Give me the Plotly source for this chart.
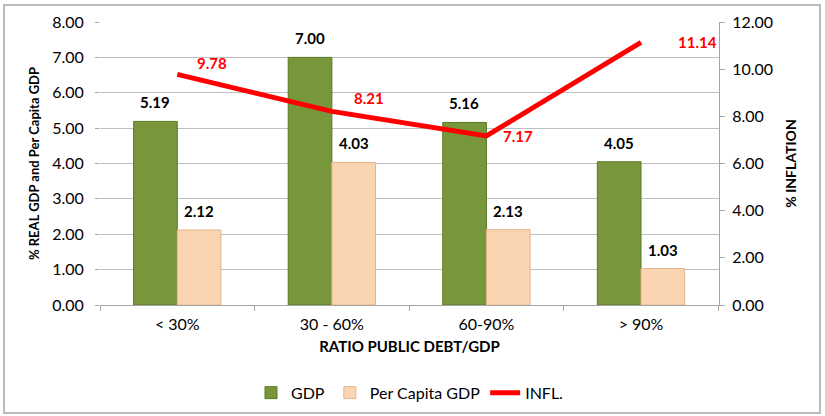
import plotly.graph_objects as go

categories = ["< 30%", "30 - 60%", "60-90%", "> 90%"]
gdp = [5.19, 7.00, 5.16, 4.05]
per_capita = [2.12, 4.03, 2.13, 1.03]
inflation = [9.78, 8.21, 7.17, 11.14]
left_ticks = [0, 1, 2, 3, 4, 5, 6, 7, 8]
right_ticks = [0, 2, 4, 6, 8, 10, 12]

FONT = "Lato"
W, H = 825, 416
ML, MR, MT, MB = 100, 106, 22, 111
pw, ph = W - ML - MR, H - MT - MB

fig = go.Figure()
fig.add_trace(go.Bar(
    x=categories, y=gdp, name="GDP", offsetgroup="a",
    marker=dict(color="#77973A", line=dict(color="#5A7A25", width=1)),
))
fig.add_trace(go.Bar(
    x=categories, y=per_capita, name="Per Capita GDP", offsetgroup="b",
    marker=dict(color="#FBD5B2", line=dict(color="#E2B58C", width=1)),
))
fig.add_trace(go.Scatter(
    x=categories, y=inflation, name="INFL.", yaxis="y2",
    mode="lines", line=dict(color="#FF0000", width=5),
    cliponaxis=False,
))

# bar value labels
bar_px = 44
for series, sx in ((gdp, -bar_px / 2), (per_capita, bar_px / 2)):
    for c, v in zip(categories, series):
        fig.add_annotation(x=c, y=v, xref="x", yref="y", text=f"<b>{v:.2f}</b>",
                           showarrow=False, xanchor="center", yanchor="bottom",
                           xshift=sx, yshift=8,
                           font=dict(family=FONT, size=15, color="#000000"))

label_shifts = [(18, 0, "left", "bottom"), (20, 2, "left", "bottom"), (15, 0, "left", "middle"), (35, 0, "left", "middle")]
for c, v, (xs, ys, xa, ya) in zip(categories, inflation, label_shifts):
    fig.add_annotation(x=c, y=v, xref="x", yref="y2", text=f"<b>{v:.2f}</b>",
                       showarrow=False, xanchor=xa, yanchor=ya, xshift=xs, yshift=ys,
                       font=dict(family=FONT, size=15, color="#FF0000"))

fig.add_shape(type="rect", xref="paper", yref="paper",
              x0=(4 - ML) / pw, x1=(820 - ML) / pw,
              y0=1 - (413 - MT) / ph, y1=1 - (5 - MT) / ph,
              line=dict(color="#A6A6A6", width=1.5), layer="below")

fig.update_layout(
    width=W, height=H,
    margin=dict(l=ML, r=MR, t=MT, b=MB, autoexpand=False),
    paper_bgcolor="white", plot_bgcolor="white",
    barmode="group", bargap=0.435, bargroupgap=0,
    font=dict(family=FONT, size=14, color="#000000"),
    showlegend=True,
    legend=dict(orientation="h", x=0.5, xanchor="center", y=-0.31, yanchor="middle",
                font=dict(family=FONT, size=16), itemwidth=30, traceorder="normal"),
    xaxis=dict(
        type="category", tickson="boundaries", ticks="outside", ticklen=5,
        tickcolor="#A6A6A6", showline=True, linecolor="#A6A6A6", linewidth=1,
        showgrid=False, automargin=False, ticklabelstandoff=5,
        title=dict(text="<b>RATIO PUBLIC DEBT/GDP</b>", font=dict(family=FONT, size=15), standoff=9),
        tickfont=dict(family=FONT, size=16),
    ),
    yaxis=dict(
        range=[0, 8], tickvals=left_ticks, tickformat=".2f",
        ticks="outside", ticklen=4, tickcolor="#A6A6A6",
        showgrid=True, gridcolor="#BFBFBF", gridwidth=1,
        showline=False, zeroline=False, automargin=False, ticklabelstandoff=8,
        title=dict(text="<b>% REAL GDP and Per Capita GDP</b>", font=dict(family=FONT, size=13), standoff=9),
        tickfont=dict(family=FONT, size=16),
    ),
    yaxis2=dict(
        range=[0, 12], tickvals=right_ticks, tickformat=".2f", overlaying="y", side="right",
        ticks="outside", ticklen=5, tickcolor="#A6A6A6",
        showgrid=False, showline=True, linecolor="#A6A6A6", zeroline=False, automargin=False,
        ticklabelstandoff=4,
        title=dict(text="<b>% INFLATION</b>", font=dict(family=FONT, size=14), standoff=14),
        tickfont=dict(family=FONT, size=16),
    ),
)

fig.write_html("out.html", config={"displayModeBar": False},
               post_script="document.body.style.margin='0';")
